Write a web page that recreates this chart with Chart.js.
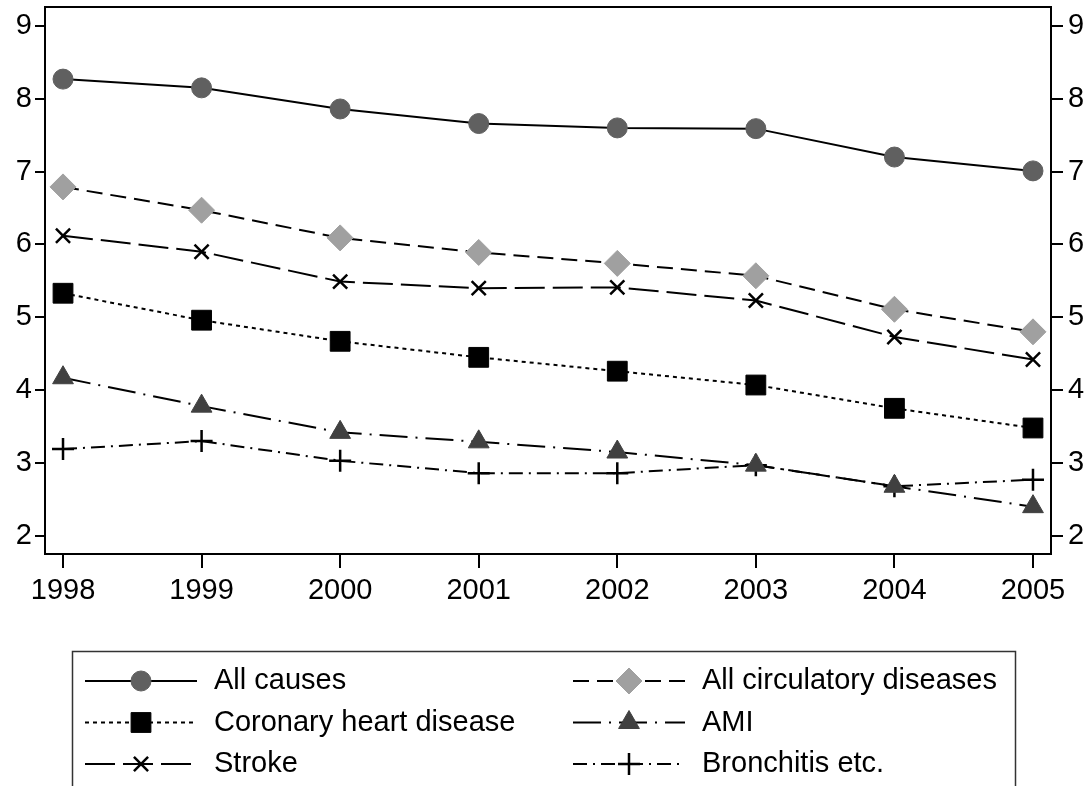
<!DOCTYPE html>
<html>
<head>
<meta charset="utf-8">
<script src="https://cdn.jsdelivr.net/npm/chart.js@4.4.1/dist/chart.umd.min.js"></script>
<style>
  html, body { margin: 0; padding: 0; background: #fff; }
</style>
</head>
<body>
<canvas id="chart" width="1092" height="786"></canvas>
<script>
// values
const years = [1998, 1999, 2000, 2001, 2002, 2003, 2004, 2005];
const yTicks = [2, 3, 4, 5, 6, 7, 8, 9];
const seriesNames = ['All causes', 'All circulatory diseases', 'Coronary heart disease', 'AMI', 'Stroke', 'Bronchitis etc.'];
const allCauses = [8.27, 8.15, 7.86, 7.66, 7.60, 7.59, 7.20, 7.01];
const allCirculatory = [6.79, 6.47, 6.09, 5.89, 5.74, 5.57, 5.11, 4.80];
const coronary = [5.33, 4.96, 4.67, 4.45, 4.26, 4.07, 3.75, 3.48];
const ami = [4.17, 3.78, 3.42, 3.29, 3.15, 2.97, 2.68, 2.40];
const stroke = [6.12, 5.90, 5.49, 5.40, 5.41, 5.23, 4.73, 4.42];
const bronchitis = [3.19, 3.30, 3.03, 2.86, 2.86, 2.97, 2.68, 2.77];

const FONT = '"Liberation Sans", Arial, sans-serif';

function points(values) {
    return values.map((v, i) => ({ x: years[i], y: v }));
}

function series(label, values, dash, style, radius, fill, border, borderWidth) {
    return {
        label: label,
        data: points(values),
        borderColor: '#000',
        borderWidth: 2,
        borderDash: dash,
        tension: 0,
        pointStyle: style,
        pointRadius: radius,
        pointHoverRadius: radius,
        pointBackgroundColor: fill,
        pointBorderColor: border,
        pointBorderWidth: borderWidth
    };
}

const datasets = [
    series(seriesNames[0], allCauses, [], 'circle', 10, '#606060', '#606060', 1),
    series(seriesNames[1], allCirculatory, [16, 8], 'rectRot', 13, '#a0a0a0', '#a0a0a0', 1),
    series(seriesNames[2], coronary, [4, 4], 'rect', 14, '#000', '#000', 1),
    series(seriesNames[3], ami, [28, 8, 2, 8], 'triangle', 12, '#404040', '#404040', 1),
    series(seriesNames[4], stroke, [30, 8], 'crossRot', 10, '#000', '#000', 2.5),
    series(seriesNames[5], bronchitis, [14, 6, 2, 6], 'cross', 11, '#000', '#000', 2.5)
];

// full box around the plot plus the legend under it
const frameAndLegend = {
    id: 'frameAndLegend',
    afterDraw(chart) {
        const ctx = chart.ctx;
        const a = chart.chartArea;
        ctx.save();
        ctx.strokeStyle = '#000';
        ctx.lineWidth = 2;
        ctx.strokeRect(a.left, a.top, a.right - a.left, a.bottom - a.top);

        ctx.strokeStyle = '#333';
        ctx.lineWidth = 1.5;
        ctx.strokeRect(72.5, 651.5, 943, 200);

        chart.data.datasets.forEach((ds, i) => {
            const col = i % 2;
            const row = Math.floor(i / 2);
            const x0 = col === 0 ? 85 : 573;
            const y = 681 + row * 41.5;
            ctx.strokeStyle = '#000';
            ctx.lineWidth = 2;
            ctx.setLineDash(ds.borderDash);
            ctx.beginPath();
            ctx.moveTo(x0, y);
            ctx.lineTo(x0 + 112, y);
            ctx.stroke();
            ctx.setLineDash([]);

            ctx.fillStyle = ds.pointBackgroundColor;
            ctx.strokeStyle = ds.pointBorderColor;
            ctx.lineWidth = ds.pointBorderWidth;
            Chart.helpers.drawPoint(ctx, {
                pointStyle: ds.pointStyle,
                radius: ds.pointRadius,
                borderWidth: ds.pointBorderWidth,
                rotation: 0
            }, x0 + 56, y);

            ctx.fillStyle = '#000';
            ctx.font = '29px ' + FONT;
            ctx.textBaseline = 'middle';
            ctx.textAlign = 'left';
            ctx.fillText(ds.label, x0 + 129, y);
        });
        ctx.restore();
    }
};

const tickFont = { family: FONT, size: 29 };

function yAxis(position, tickLength, padding, width) {
    return {
        type: 'linear',
        position: position,
        min: 1.75,
        max: 9.26,
        afterBuildTicks: scale => { scale.ticks = yTicks.map(v => ({ value: v })); },
        afterFit: scale => {
            scale.width = width;
            scale.paddingTop = 7;
            scale.paddingBottom = 0;
        },
        border: { display: false },
        grid: { drawOnChartArea: false, drawTicks: true, tickLength: tickLength, color: '#000', lineWidth: 2 },
        ticks: { color: '#000', font: tickFont, padding: padding }
    };
}

new Chart(document.getElementById('chart'), {
    type: 'line',
    data: { datasets: datasets },
    plugins: [frameAndLegend],
    options: {
        responsive: false,
        animation: false,
        layout: { padding: 0, autoPadding: false },
        plugins: {
            legend: { display: false },
            tooltip: { enabled: false }
        },
        scales: {
            x: {
                type: 'linear',
                position: 'bottom',
                min: 1997.87,
                max: 2005.13,
                afterBuildTicks: scale => { scale.ticks = years.map(v => ({ value: v })); },
                afterFit: scale => { scale.height = 232; },
                border: { display: false },
                grid: { drawOnChartArea: false, drawTicks: true, tickLength: 14, color: '#000', lineWidth: 2 },
                ticks: { color: '#000', font: tickFont, padding: 6, maxRotation: 0, callback: v => String(v) }
            },
            y: yAxis('left', 10, 3, 45),
            y2: yAxis('right', 12, 5, 41)
        }
    }
});
</script>
</body>
</html>
